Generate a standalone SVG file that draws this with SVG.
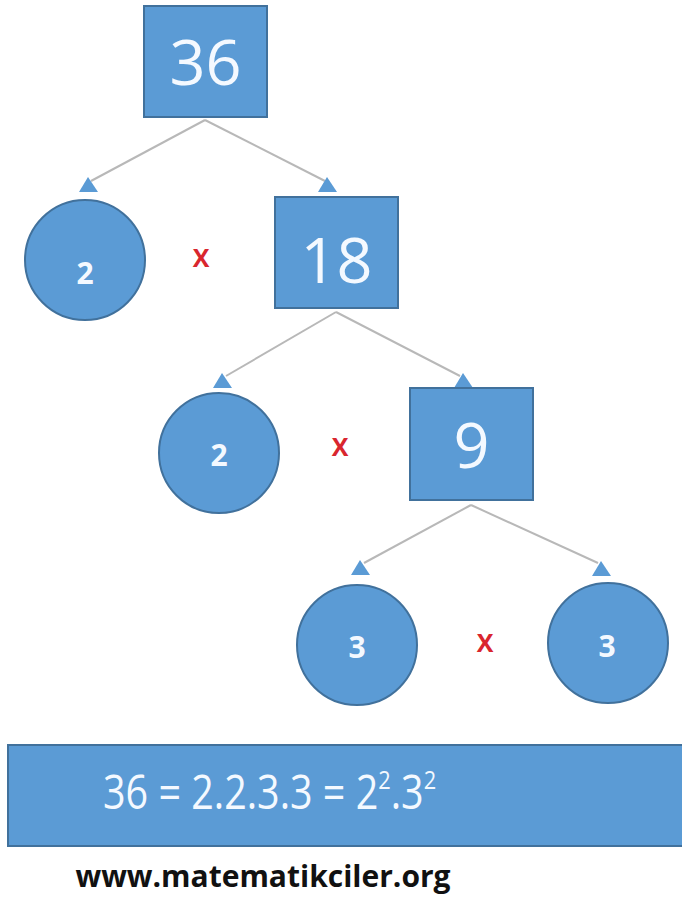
<svg xmlns="http://www.w3.org/2000/svg" width="682" height="908" viewBox="0 0 682 908">
<style>
.box{fill:#5B9BD5;stroke:#41719C;stroke-width:2}
.big{font-family:"Open Sans","Liberation Sans",sans-serif;font-size:63px;fill:#F4F9FF;text-anchor:middle}
.small{font-family:"Open Sans","Liberation Sans",sans-serif;font-size:30px;font-weight:bold;fill:#F4F9FF;text-anchor:middle}
.times{font-family:"Open Sans","Liberation Sans",sans-serif;font-size:25px;font-weight:bold;fill:#D9262E;text-anchor:middle}
.conn line{stroke:#B8B8B8;stroke-width:2}
.head{fill:#5B9BD5}
</style>
<defs>
<polygon id="ah" class="head" points="0,0 -9,15 10,15"/>
</defs>
<rect width="682" height="908" fill="#FFFFFF"/>
<g id="connectors" class="conn">
<line x1="205" y1="120" x2="91" y2="181"/>
<line x1="205" y1="120" x2="325" y2="181"/>
<line x1="336" y1="312" x2="226" y2="376"/>
<line x1="336" y1="312" x2="460" y2="376"/>
<line x1="471" y1="505" x2="364" y2="563"/>
<line x1="471" y1="505" x2="598" y2="563"/>
<use href="#ah" x="88" y="177"/>
<use href="#ah" x="327" y="177"/>
<use href="#ah" x="222" y="373"/>
<use href="#ah" x="463" y="373"/>
<use href="#ah" x="360" y="560"/>
<use href="#ah" x="601" y="561"/>
</g>
<g id="n36"><rect class="box" x="144" y="6" width="123" height="111"/><text class="big" x="205.5" y="85">36</text></g>
<g id="n2a"><circle class="box" cx="85" cy="260" r="60"/><text class="small" x="85" y="284">2</text></g>
<g id="x1"><text class="times" x="201" y="267">X</text></g>
<g id="n18"><rect class="box" x="275" y="197" width="123" height="111"/><text class="big" x="336.5" y="283">18</text></g>
<g id="n2b"><circle class="box" cx="219" cy="453" r="60"/><text class="small" x="219" y="466">2</text></g>
<g id="x2"><text class="times" x="340" y="456">X</text></g>
<g id="n9"><rect class="box" x="410" y="388" width="123" height="112"/><text class="big" x="471.5" y="468">9</text></g>
<g id="n3a"><circle class="box" cx="357" cy="645" r="60"/><text class="small" x="357" y="658">3</text></g>
<g id="x3"><text class="times" x="485" y="652">X</text></g>
<g id="n3b"><circle class="box" cx="608" cy="643" r="60"/><text class="small" x="607" y="657">3</text></g>
<g id="result"><rect class="box" x="8" y="745" width="676" height="101"/>
<text transform="translate(103,809) scale(0.84,1)" x="0" y="0" font-family="'Open Sans','Liberation Sans',sans-serif" font-size="47" fill="#F4F9FF">36 = 2.2.3.3 = 2<tspan font-size="26" dy="-20">2</tspan><tspan dy="20">.3</tspan><tspan font-size="26" dy="-20">2</tspan></text></g>
<g id="site"><text x="263" y="887" font-family="'Open Sans','Liberation Sans',sans-serif" font-size="30" font-weight="bold" fill="#111111" text-anchor="middle">www.matematikciler.org</text></g>
</svg>
